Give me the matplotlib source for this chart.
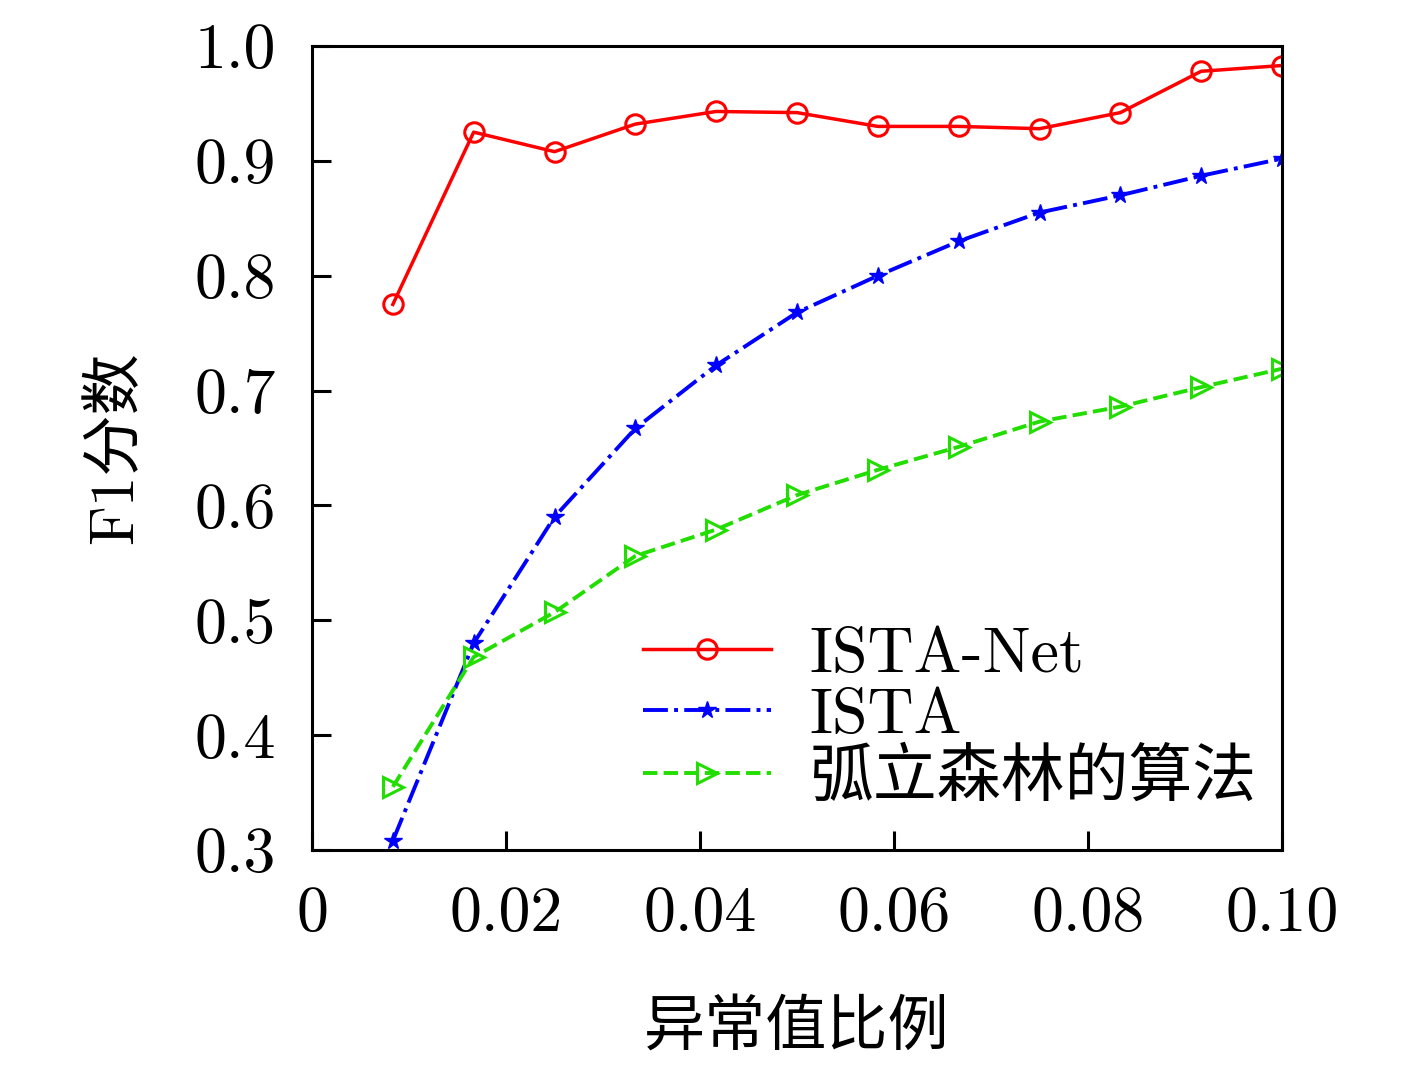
import matplotlib
matplotlib.use("Agg")
import matplotlib.pyplot as plt

x = [i / 120 for i in range(1, 13)]
ista_net = [0.775, 0.925, 0.908, 0.932, 0.943, 0.942, 0.930, 0.930, 0.928, 0.942, 0.978, 0.983]
ista = [0.308, 0.480, 0.590, 0.667, 0.722, 0.768, 0.800, 0.830, 0.855, 0.870, 0.887, 0.902]
iforest = [0.355, 0.468, 0.507, 0.556, 0.579, 0.609, 0.631, 0.651, 0.673, 0.686, 0.703, 0.719]

xticks = [0, 0.02, 0.04, 0.06, 0.08, 0.10]
xtick_labels = ["0", "0.02", "0.04", "0.06", "0.08", "0.10"]
yticks = [0.3, 0.4, 0.5, 0.6, 0.7, 0.8, 0.9, 1.0]

plt.rcParams['font.family'] = ['cmr10', 'Noto Sans CJK SC', 'DejaVu Serif']
plt.rcParams['axes.formatter.use_mathtext'] = True

fig = plt.figure(figsize=(14.17, 10.77), dpi=100)
ax = fig.add_axes([312 / 1417, 1 - 850 / 1077, 970 / 1417, 804 / 1077])

ax.plot(x, ista_net, "-", color="red", marker="o", mfc="none", ms=14, mew=2.2, lw=2.5, label="ISTA-Net")
ax.plot(x, ista, "-.", color="blue", marker="*", ms=13, lw=2.8, label="ISTA")
ax.plot(x, iforest, "--", color="#22dd00", marker=">", mfc="none", ms=14, mew=2.2, lw=2.8, label="弧立森林的算法")

ax.set_xlim(0, 0.10)
ax.set_ylim(0.3, 1.0)
ax.set_xticks(xticks)
ax.set_xticklabels(xtick_labels)
ax.set_yticks(yticks)
ax.set_yticklabels([f"{v:.1f}" for v in yticks])
ax.tick_params(direction="in", length=14, width=2.2, labelsize=46, pad=26)
for s in ax.spines.values():
    s.set_linewidth(2.2)

ax.set_xlabel("异常值比例", fontsize=44, labelpad=40)
ax.set_ylabel("F1分数", fontsize=44, labelpad=36)

ax.legend(loc="lower right", fontsize=46, frameon=False, handlelength=2.0,
          borderaxespad=0.0, labelspacing=0.05, handletextpad=0.6,
          bbox_to_anchor=(1.0, 0.02))

fig.savefig("out.png", dpi=100)
